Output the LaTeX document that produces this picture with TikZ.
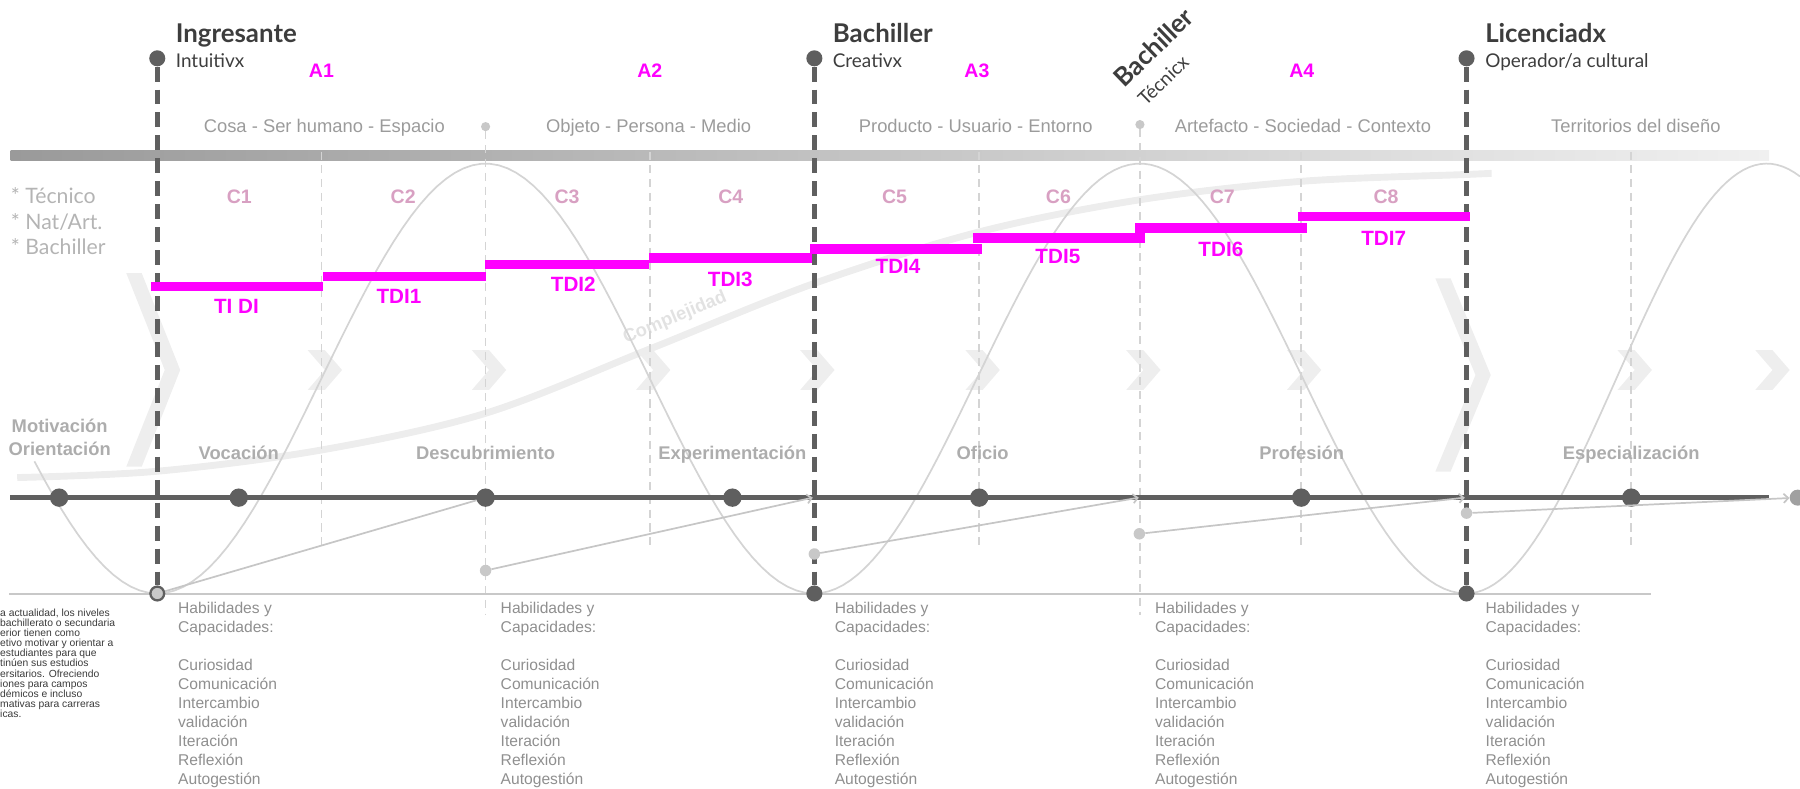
\documentclass[tikz,border=0pt]{standalone}
\usepackage{fontspec}
\setmainfont{Liberation Sans}
\newfontfamily\latofont{Lato}
\usetikzlibrary{arrows.meta,positioning,calc}

\definecolor{darkgrey}{HTML}{5F5F5F}
\definecolor{headgrey}{HTML}{3D3D3D}
\definecolor{wavegrey}{HTML}{D4D4D4}
\definecolor{arrowgrey}{HTML}{C6C6C6}
\definecolor{stagegrey}{HTML}{ADADAD}
\definecolor{sectgrey}{HTML}{9B9B9B}
\definecolor{chevgrey}{HTML}{EEEEEE}
\definecolor{complgrey}{HTML}{EDEDED}
\definecolor{compltext}{HTML}{E2E2E2}
\definecolor{tdipink}{HTML}{FF00FF}
\definecolor{cpink}{HTML}{D8A0C2}
\definecolor{skillgrey}{HTML}{8F8F8F}
\definecolor{notegrey}{HTML}{B4B4B4}
\definecolor{bargrey}{HTML}{9A9A9A}
\definecolor{barlight}{HTML}{F0F0F0}
\definecolor{pingrey}{HTML}{C8C8C8}
\definecolor{endgrey}{HTML}{A0A0A0}
\definecolor{paragrey}{HTML}{3A3A3A}

\newcommand{\habtext}{Habilidades y\\Capacidades:\\[16.6pt]Curiosidad\\Comunicación\\Intercambio\\validación\\Iteración\\Reflexión\\Autogestión}

\tikzset{
  majorline/.style={darkgrey,line width=4pt,dash pattern=on 13pt off 7pt},
  minorline/.style={wavegrey,line width=1.5pt,dash pattern=on 7pt off 5pt},
  wave/.style={wavegrey,line width=1.5pt},
  compl/.style={complgrey,line width=6pt},
  progress/.style={arrowgrey,line width=1.5pt},
  tdot/.style={circle,fill=darkgrey,minimum size=16pt,inner sep=0pt},
  pin/.style={circle,fill=darkgrey,minimum size=14pt,inner sep=0pt},
  smallpin/.style={circle,fill=pingrey,minimum size=8pt,inner sep=0pt},
  sdot/.style={circle,fill=pingrey,minimum size=10pt,inner sep=0pt},
  heading/.style={anchor=base west,inner sep=0pt,text=headgrey,font=\latofont\bfseries\fontsize{22.5}{24}\selectfont},
  subhead/.style={anchor=base west,inner sep=0pt,text=headgrey,font=\latofont\fontsize{16.5}{18}\selectfont},
  alabel/.style={anchor=base,inner sep=0pt,text=tdipink,font=\bfseries\fontsize{17}{19}\selectfont},
  clabel/.style={anchor=base,inner sep=0pt,text=cpink,font=\bfseries\fontsize{17}{19}\selectfont},
  tdilabel/.style={anchor=base,inner sep=0pt,text=tdipink,font=\bfseries\fontsize{18}{20}\selectfont},
  section/.style={anchor=base,inner sep=0pt,text=sectgrey,font=\fontsize{16}{18}\selectfont},
  stage/.style={anchor=base,inner sep=0pt,text=stagegrey,font=\bfseries\fontsize{16}{18}\selectfont},
  skills/.style={anchor=base west,align=left,inner sep=0pt,text=skillgrey,font=\fontsize{13.6}{16.6}\selectfont},
}

\begin{document}
\begin{tikzpicture}[x=1pt,y=-1pt]
        \clip (0,0) rectangle (1568,687);

        % Chevrons in the back
        \fill[chevgrey] (110,238) -- (123.5,238) -- (157,322.3) -- (123.5,406.5) -- (110,406.5) -- (143.5,322.3) -- cycle;
        \fill[chevgrey] (1250.3,242.4) -- (1263.6,242.4) -- (1298.6,326.7) -- (1263.6,410.9) -- (1250.3,410.9) -- (1285.3,326.7) -- cycle;
        \foreach \x in {280,423,566,709,853,993,1133,1421,1541}
          \fill[chevgrey] (\x-12,305) -- (\x+3,305) -- (\x+18,322.3) -- (\x+3,339.7) -- (\x-12,339.7) -- (\x+3,322.3) -- cycle;

        % Complejidad
        \draw[compl] plot[smooth,tension=0.55] coordinates {(15,416) (137,410.5) (280,392) (423,360) (566,304) (709,247) (853,202) (993,174) (1133,158) (1277,152) (1299,151)};
        \node[text=compltext,font=\bfseries\fontsize{16}{18}\selectfont,rotate=22.7] (cmpl) at (588,277) {Complejidad};

        % Wave
        \draw[wave] plot[domain=30:709,samples=90] (\x,{329.75+187.25*cos((\x-137)/286*180)});
        \draw[wave] plot[domain=709:1277,samples=90] (\x,{329.75+187.25*cos((\x-709)/284*180)});
        \draw[wave] plot[domain=1277:1568,samples=60] (\x,{329.75+187.25*cos((\x-1277)/262*180)});

        % Top bar
        \shade[left color=bargrey,right color=barlight] (9.3,131) rectangle (1541,140);
        \node[section] (sec1) at (282.5,115) {Cosa - Ser humano - Espacio};
        \node[section] (sec2) at (565,115) {Objeto - Persona - Medio};
        \node[section] (sec3) at (850,115) {Producto - Usuario - Entorno};
        \node[section] (sec4) at (1135,115) {Artefacto - Sociedad - Contexto};
        \node[section] (sec5) at (1425,115) {Territorios del diseño};

        \foreach \x/\t in {280/A1,566/A2,851/A3,1134/A4}
          \node[alabel] (\t) at (\x,67.7) {\t};
        \foreach \i in {1,...,8}
          \node[clabel] (c\i) at ({208.5+142.7*(\i-1)},177) {C\i};

        % Thin dashed lines
        \foreach \x in {280,566,853,1133,1421}
          \draw[minorline] (\x,132) -- (\x,479);
        \node[smallpin] (q1) at (423,110.3) {};
        \node[smallpin] (q2) at (993,108.5) {};
        \coordinate (q1e) at (423,536);
        \coordinate (q2e) at (993,536);
        \draw[minorline] (q1) -- (q1e);
        \draw[minorline] (q2) -- (q2e);

        % Baseline and timeline
        \draw[pingrey,line width=2.2pt] (8,517.5) -- (1438,517.5);
        \draw[darkgrey,line width=4pt] (9,433.5) -- (1541,433.5);

        % Milestones
        \node[pin] (p1) at (137,50.8) {};
        \node[pin] (p2) at (709.4,50.8) {};
        \node[pin] (p3) at (1277.5,50.8) {};
        \node[circle,fill=pingrey,draw=darkgrey,line width=2pt,minimum size=12pt,inner sep=0pt] (b1) at (137,517) {};
        \node[pin] (b2) at (709.4,517) {};
        \node[pin] (b3) at (1277.5,517) {};
        \draw[majorline] (p1) -- (b1);
        \draw[majorline] (p2) -- (b2);
        \draw[majorline] (p3) -- (b3);

        \node[heading] (h1) at (153,37.2) {Ingresante};
        \node[subhead] (h1s) at (153,58.9) {Intuitivx};
        \node[heading] (h2) at (725.3,37.2) {Bachiller};
        \node[subhead] (h2s) at (725.3,58.9) {Creativx};
        \node[heading] (h3) at (1293.6,37.2) {Licenciadx};
        \node[subhead] (h3s) at (1293.6,58.9) {Operador/a cultural};
        \node[heading,rotate=44] (h4) at (979,77.5) {Bachiller};
        \node[subhead,rotate=44] (h4s) at (998,93) {Técnicx};

        \node[anchor=base west,align=left,inner sep=0pt,text=notegrey,font=\latofont\fontsize{18.5}{22.2}\selectfont] (notes) at (9.3,222.1) {* Técnico\\{*} Nat/Art.\\{*} Bachiller};

        % Progress arrows
        \node[sdot] (s1) at (423,497) {};
        \node[sdot] (s2) at (709.4,482.6) {};
        \node[sdot] (s3) at (992.5,465) {};
        \node[sdot] (s4) at (1277.5,447) {};
        \coordinate (m2) at (708,433.5);
        \coordinate (m3) at (992,433.5);
        \coordinate (m4) at (1276,433.5);
        \node[circle,fill=endgrey,minimum size=14pt,inner sep=0pt] (dend) at (1566,433.5) {};
        \foreach \n/\x in {1/51.5,2/208,3/423,4/638,5/853,6/1133.5,7/1421}
          \node[tdot] (d\n) at (\x,433.5) {};
        \draw[progress] (b1) -- (d3);
        \draw[progress,-{Straight Barb[length=4pt,width=8pt]}] (s1) -- (m2);
        \draw[progress,-{Straight Barb[length=4pt,width=8pt]}] (s2) -- (m3);
        \draw[progress,-{Straight Barb[length=4pt,width=8pt]}] (s3) -- (m4);
        \draw[progress,-{Straight Barb[length=4pt,width=8pt]}] (s4) -- (dend);

        % Stages
        \node[stage] (mot) at (52,376.9) {Motivación};
        \node[stage] (ori) at (52,396.9) {Orientación};
        \node[stage] (st1) at (208,400) {Vocación};
        \node[stage] (st2) at (423,400) {Descubrimiento};
        \node[stage] (st3) at (638,400) {Experimentación};
        \node[stage] (st4) at (856,400) {Oficio};
        \node[stage] (st5) at (1134,400) {Profesión};
        \node[stage] (st6) at (1421,400) {Especialización};

        % TDI steps
        \foreach \xa/\xb/\yc/\lx/\ly/\t [count=\i] in {131.7/281/249.3/206/273.5/TI DI,281/423.3/240.6/347.5/264.6/TDI1,422.3/565/230.5/499.4/254.2/TDI2,565/707/224.7/636.2/249.5/TDI3,705.7/855/216.9/782.3/238.5/TDI4,847.7/997/207.3/921.5/229.5/TDI5,988.7/1138.6/198.6/1063.5/223.1/TDI6,1130.6/1280.6/188.9/1205.3/213.8/TDI7}
        {
          \fill[tdipink] (\xa,\yc-4) rectangle (\xb,\yc+4);
          \node[tdilabel] (tdi\i) at (\lx,\ly) {\t};
        }

        % Skills
        \node[skills] (hab1) at (155,683.8) {\habtext};
        \node[skills] (hab2) at (436,683.8) {\habtext};
        \node[skills] (hab3) at (727,683.8) {\habtext};
        \node[skills] (hab4) at (1006,683.8) {\habtext};
        \node[skills] (hab5) at (1294,683.8) {\habtext};

        \node[anchor=base west,align=left,inner sep=0pt,text=paragrey,font=\fontsize{9}{8.76}\selectfont] (para) at (0,624.8) {a actualidad, los niveles\\bachillerato o secundaria\\erior tienen como\\etivo motivar y orientar a\\estudiantes para que\\tinúen sus estudios\\ersitarios. Ofreciendo\\iones para campos\\démicos e incluso\\mativas para carreras\\icas.};
\end{tikzpicture}
\end{document}
